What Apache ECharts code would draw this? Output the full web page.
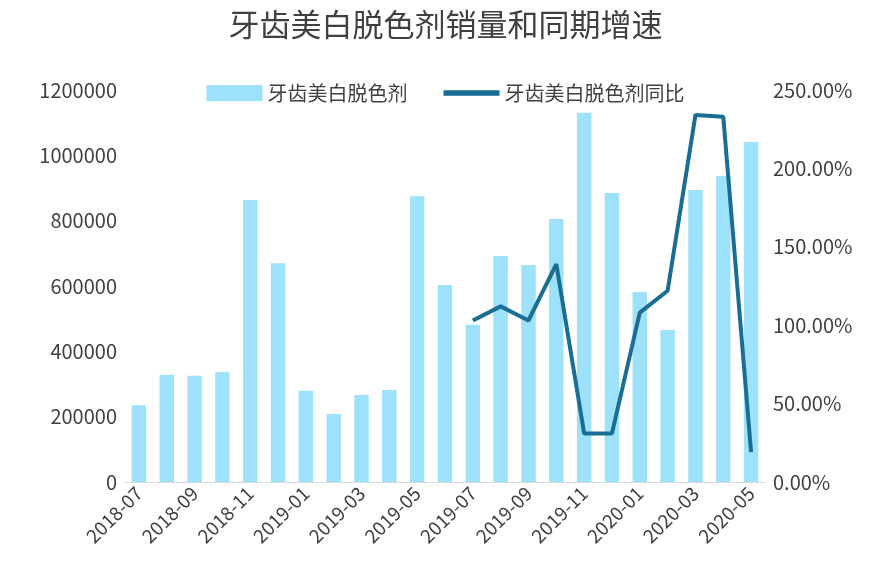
<!DOCTYPE html>
<html><head><meta charset="utf-8">
<script src="https://cdn.jsdelivr.net/npm/echarts@6/dist/echarts.min.js"></script>
<style>html,body{margin:0;padding:0;background:#fff}#chart1{width:891px;height:584px}</style>
</head><body>
<div id="chart1"></div>
<script>
var months = ['2018-07','2018-08','2018-09','2018-10','2018-11','2018-12','2019-01','2019-02','2019-03','2019-04','2019-05','2019-06','2019-07','2019-08','2019-09','2019-10','2019-11','2019-12','2020-01','2020-02','2020-03','2020-04','2020-05']
var sales = [235000,328000,325000,337000,863000,670000,279000,208000,266000,282000,875000,603000,481000,692000,664000,805000,1130000,885000,582000,465000,894000,937000,1041000]
var yoy = [null,null,null,null,null,null,null,null,null,null,null,null,103,112,103,139,31,31,108,122,234,233,19]

var font = 'Noto Sans CJK SC'
var myChart = echarts.init(document.getElementById('chart1'))
myChart.setOption({
    animation: false,
    textStyle: { fontFamily: font },
    title: {
        text: '牙齿美白脱色剂销量和同期增速',
        left: 'center', top: 4,
        textStyle: { fontSize: 31, fontWeight: 'normal', color: '#404040', fontFamily: font }
    },
    legend: {
        top: 78, left: 'center', itemGap: 36,
        textStyle: { fontSize: 20, color: '#404040' },
        data: [
            { name: '牙齿美白脱色剂', icon: 'rect' },
            { name: '牙齿美白脱色剂同比', icon: 'path://M0,0H60V6H0Z' }
        ],
        itemWidth: 56, itemHeight: 16
    },
    grid: { left: 125, right: 126, top: 90, bottom: 102 },
    xAxis: {
        type: 'category', data: months,
        axisTick: { show: false },
        axisLine: { lineStyle: { color: '#d9d9d9' } },
        axisLabel: { interval: 1, rotate: 45, color: '#404040', fontSize: 19 }
    },
    yAxis: [{
        type: 'value', min: 0, max: 1200000, interval: 200000,
        splitLine: { show: false },
        axisLabel: { color: '#404040', fontSize: 20, formatter: function (v) { return String(v) } }
    }, {
        type: 'value', min: 0, max: 250, interval: 50,
        splitLine: { show: false },
        axisLabel: { color: '#404040', fontSize: 20, formatter: function (v) { return v.toFixed(2) + '%' } }
    }],
    series: [{
        name: '牙齿美白脱色剂', type: 'bar', barWidth: '52%',
        itemStyle: { color: '#9ee1fb' },
        data: sales
    }, {
        name: '牙齿美白脱色剂同比', type: 'line', yAxisIndex: 1,
        symbol: 'none', lineStyle: { color: '#1a6e93', width: 4 },
        itemStyle: { color: '#1a6e93' },
        data: yoy
    }]
})
</script>
</body></html>
